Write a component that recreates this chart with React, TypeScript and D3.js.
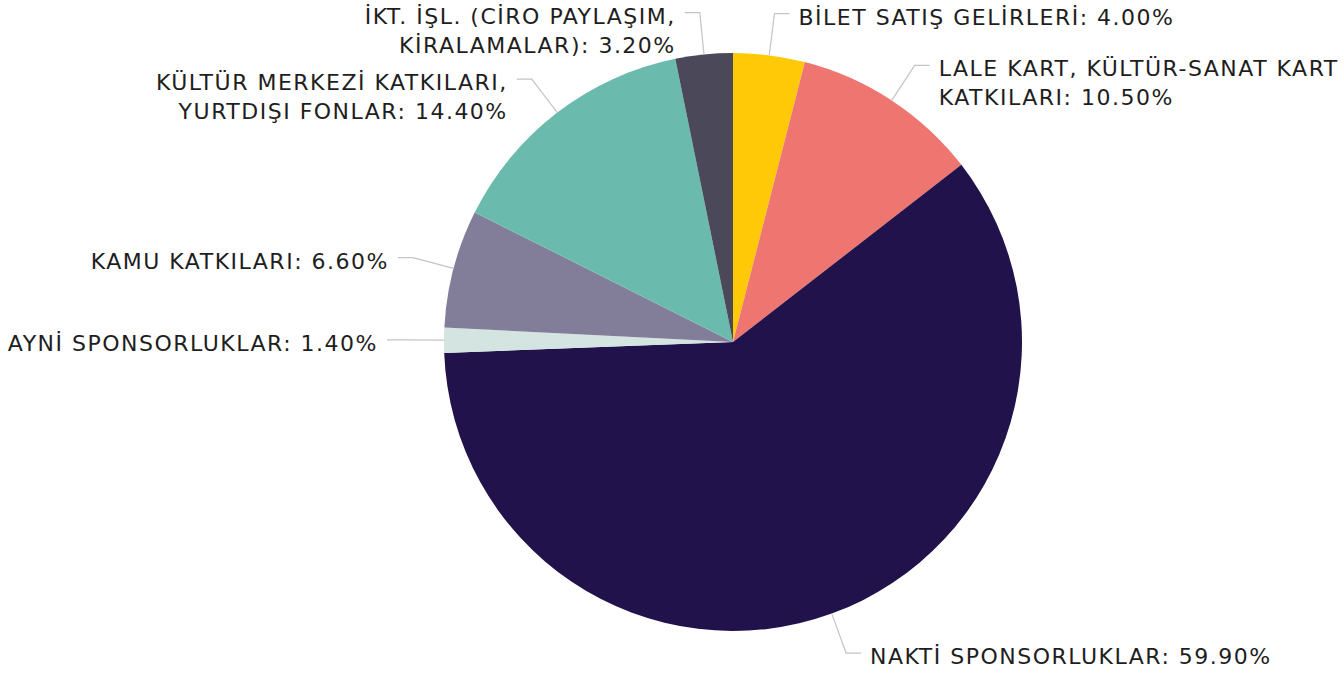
import React from "react";
import * as d3 from "d3";

const categories: string[][] = [
  ["BİLET SATIŞ GELİRLERİ: 4.00%"],
  ["LALE KART, KÜLTÜR-SANAT KART", "KATKILARI: 10.50%"],
  ["NAKTİ SPONSORLUKLAR: 59.90%"],
  ["AYNİ SPONSORLUKLAR: 1.40%"],
  ["KAMU KATKILARI: 6.60%"],
  ["KÜLTÜR MERKEZİ KATKILARI,", "YURTDIŞI FONLAR: 14.40%"],
  ["İKT. İŞL. (CİRO PAYLAŞIM,", "KİRALAMALAR): 3.20%"],
];
const values: number[] = [4.0, 10.5, 59.9, 1.4, 6.6, 14.4, 3.2];
const colors: string[] = ["#FFC907", "#EF7670", "#22124B", "#D4E4E0", "#827E99", "#6ABBAD", "#4B4859"];

const W = 1344;
const H = 677;
const cx = 733;
const cy = 342;
const R = 289;

export default function App() {
  const pie = d3.pie<number>().sort(null).value((d) => d)(values);
  const arc = d3.arc<d3.PieArcDatum<number>>().innerRadius(0).outerRadius(R);
  const ext = 42;
  const hor = 15;
  const gap = 9;
  const lineH = 29;
  return (
    <svg width={W} height={H} style={{ position: "absolute", left: 0, top: 0, background: "#fff" }}>
      <g transform={`translate(${cx},${cy})`}>
        {pie.map((p, i) => (
          <path key={i} d={arc(p) || ""} fill={colors[i]} />
        ))}
        {pie.map((p, i) => {
          const a = (p.startAngle + p.endAngle) / 2;
          const sx = Math.sin(a), sy = -Math.cos(a);
          const x0 = sx * R, y0 = sy * R;
          const x1 = sx * (R + ext), y1 = sy * (R + ext);
          const right = sx >= 0;
          const x2 = x1 + (right ? hor : -hor);
          const tx = x2 + (right ? gap : -gap);
          return (
            <g key={"l" + i}>
              <polyline
                points={`${x0},${y0} ${x1},${y1} ${x2},${y1}`}
                fill="none"
                stroke="#c4c4c4"
                strokeWidth={1.2}
              />
              <text
                x={tx}
                y={y1 + 11}
                textAnchor={right ? "start" : "end"}
                fontFamily="Verdana, 'DejaVu Sans', sans-serif"
                fontSize={22}
                letterSpacing={1.5}
                fill="#1e1e1e"
              >
                {categories[i].map((ln, j) => (
                  <tspan key={j} x={tx} dy={j === 0 ? 0 : lineH}>
                    {ln}
                  </tspan>
                ))}
              </text>
            </g>
          );
        })}
      </g>
    </svg>
  );
}
